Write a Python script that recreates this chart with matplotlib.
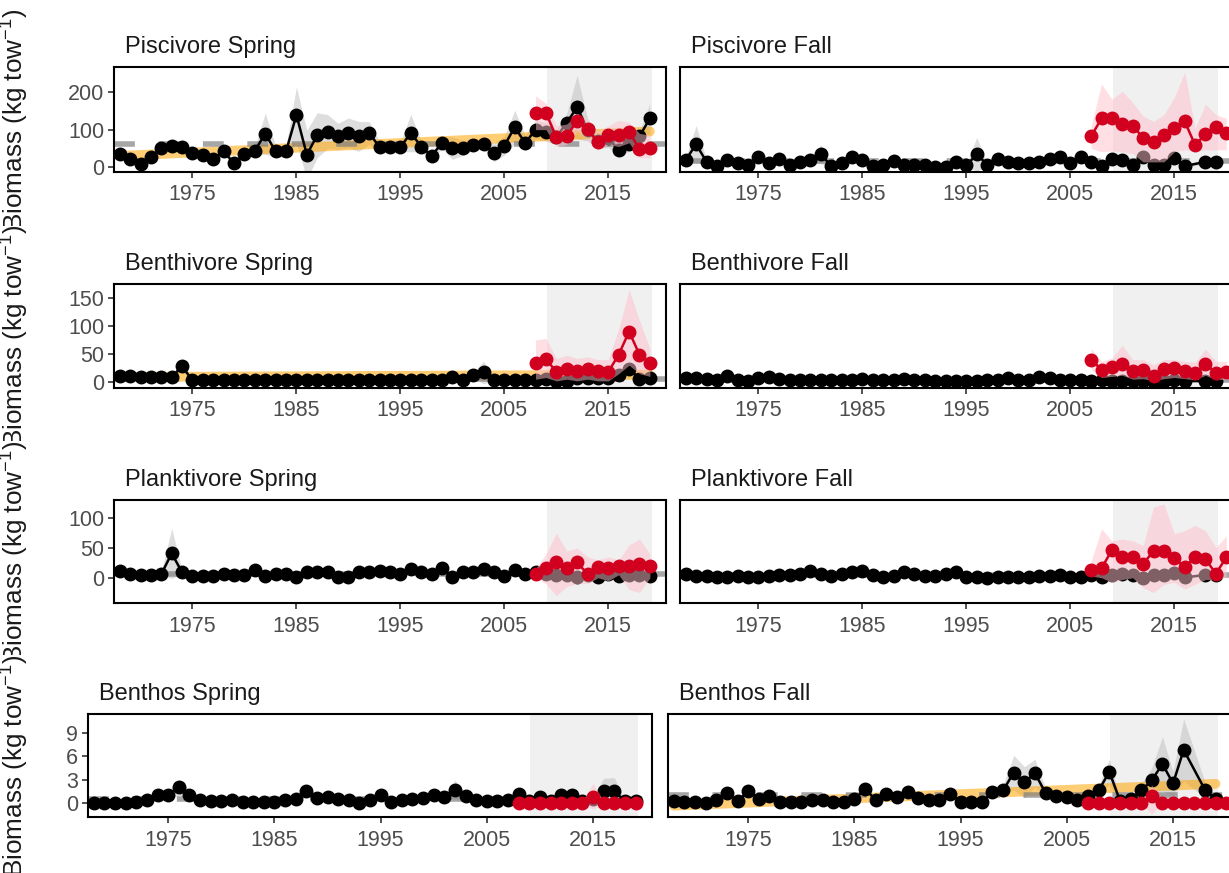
import numpy as np
import matplotlib
matplotlib.use("Agg")
import matplotlib.pyplot as plt
from matplotlib.transforms import offset_copy, Bbox

plt.rcParams['font.family'] = ['Liberation Sans', 'DejaVu Sans']
plt.rcParams['mathtext.fontset'] = 'custom'
plt.rcParams['mathtext.rm'] = 'Liberation Sans'
plt.rcParams['mathtext.it'] = 'Liberation Sans:italic'
plt.rcParams['mathtext.bf'] = 'Liberation Sans:bold'
plt.rcParams['lines.scale_dashes'] = False

## Years
years = np.arange(1968, 2020)
spring_red_years = np.arange(2008, 2020)
fall_red_years = np.arange(2007, 2021)
nan = np.nan

## Piscivore
pisc_spring = [35, 21, 9, 27, 51, 57, 55, 39, 33, 21, 42, 10, 35, 44, 89, 42, 42, 139, 33, 85,
               95, 82, 91, 82, 91, 53, 53, 53, 91, 55, 30, 64, 51, 51, 60, 62, 39, 57, 107, 64,
               100, 94, 80, 118, 160, 100, 70, 78, 45, 62, 82, 130]
pisc_spring_se = [8, 6, 6, 8, 10, 8, 10, 8, 8, 6, 10, 6, 8, 10, 55, 15, 15, 75, 65, 60,
                  45, 35, 40, 40, 30, 15, 10, 12, 50, 15, 10, 15, 30, 20, 15, 12, 25, 25, 45, 20,
                  25, 25, 20, 25, 85, 30, 20, 25, 15, 20, 15, 40]
pisc_spring_red = [145, 145, 80, 82, 124, 101, 66, 87, 87, 94, 48, 51]
pisc_spring_red_hi = [190, 170, 110, 115, 140, 125, 95, 110, 125, 120, 90, 85]
pisc_spring_red_lo = [100, 100, 55, 60, 95, 75, 45, 60, 55, 65, 25, 25]

pisc_fall = [19, 61, 14, 3, 19, 10, 5, 28, 11, 23, 5, 14, 19, 34, 3, 10, 28, 19, 2, 5,
             16, 7, 5, 5, 1.5, 0.5, 14, 5, 34, 7, 21, 14, 10, 10, 14, 21, 28, 10, 28, 14,
             3, 23, 19, 5, 28, 7, 7, 25, 3, nan, 14, 14]
pisc_fall_se = [6, 50, 6, 4, 6, 5, 4, 8, 5, 6, 4, 5, 8, 25, 4, 5, 8, 6, 3, 4,
                5, 4, 4, 4, 3, 3, 6, 4, 45, 4, 6, 5, 5, 5, 5, 6, 8, 5, 8, 5,
                4, 8, 6, 5, 8, 5, 5, 8, 5, nan, 5, 5]
pisc_fall_red = [82, 130, 131, 115, 109, 79, 66, 86, 104, 122, 59, 88, 106, 91]
pisc_fall_red_hi = [110, 222, 181, 202, 172, 136, 122, 140, 186, 253, 104, 168, 140, 130]
pisc_fall_red_lo = [50, 41, 43, 41, 36, 14, 14, 14, 41, 46, 43, 46, 46, 46]

## Benthivore
benv_spring = [10, 10, 9, 9, 9, 9, 28, 3, 3, 4, 3, 3, 3, 3, 4, 3, 3, 3, 3, 3,
               3, 3, 3, 3, 3, 3, 3, 3, 3, 3, 3, 3, 9, 4, 12, 17, 4, 4, 4, 4,
               4, 5, 1, 2, 7, 8, 7, 8, 12, 24, 6, 7]
benv_spring_se = [3, 3, 3, 3, 3, 3, 8, 2, 2, 2, 2, 2, 2, 2, 2, 2, 2, 2, 2, 2,
                  2, 2, 2, 2, 2, 2, 2, 2, 2, 2, 2, 2, 4, 2, 5, 20, 2, 2, 2, 2,
                  2, 3, 2, 2, 3, 3, 3, 3, 5, 10, 3, 3]
benv_spring_red = [34, 41, 18, 24, 20, 24, 20, 18, 49, 90, 49, 34]
benv_spring_red_hi = [75, 78, 42, 48, 42, 45, 40, 40, 95, 165, 110, 60]
benv_spring_red_lo = [5, 8, 2, 5, 2, 5, 2, 2, 15, 30, 15, 10]

benv_fall = [7.6, 7.6, 5.9, 2.9, 10, 4.1, 1.7, 6.4, 8.8, 5.9, 2.9, 2.9, 2.9, 2.9, 2.9, 2.9, 2.9, 5.9, 2.9, 2.9,
             2.9, 5.9, 2.9, 2.9, 1.7, 1.7, 1.7, 1.7, 1.7, 2.9, 2.9, 6.4, 2.9, 2.9, 8.8, 6.4, 2.9, 4.1, 4.1, 1.7,
             2.9, 1.7, 1.7, 1.7, 1.7, 0.3, 1.7, 2.9, 1.7, nan, 1.7, 1.7]
benv_fall_se = [2] * 49 + [nan, 2, 2]
benv_fall_red = [40, 22, 26, 32, 19, 22, 10.5, 23.5, 25, 20.5, 16.4, 32, 16.4, 18]
benv_fall_red_hi = [60, 37, 43, 66, 40, 40, 31, 40, 40, 37, 35, 59, 37, 37]
benv_fall_red_lo = [22, 8, 10, 12, 5, 6, 2, 6, 8, 6, 4, 12, 4, 5]

## Planktivore
plank_spring = [11, 6, 5, 5, 6, 41, 9, 3, 3, 3, 6, 5, 5, 13, 3, 6, 6, 2, 9, 9,
                10, 2, 2, 10, 9, 12, 10, 6, 14, 10, 7, 16, 2, 10, 10, 14, 10, 3, 13, 6,
                10, 6, 5, 5, 2, 4, 2, 6, 3, 5, 5, 3]
plank_spring_se = [4, 3, 3, 3, 3, 42, 4, 2, 2, 2, 3, 3, 3, 5, 2, 3, 3, 2, 4, 4,
                   4, 2, 2, 4, 4, 5, 4, 3, 5, 4, 3, 6, 2, 4, 4, 5, 4, 2, 5, 3,
                   4, 3, 3, 3, 2, 3, 2, 3, 2, 3, 3, 2]
plank_spring_red = [6, 16, 26, 16, 26, 6, 18, 16, 19, 19, 23, 19]
plank_spring_red_hi = [15, 40, 75, 45, 50, 35, 30, 35, 30, 55, 65, 40]
plank_spring_red_lo = [0, -10, -30, -15, -10, -10, 0, -5, 5, -20, -25, 0]

plank_fall = [7, 3, 3, 1.4, 1.4, 3, 1.4, 0.5, 3, 4.8, 4.8, 7, 10.5, 7, 3, 6, 8.8, 10.5, 4.8, 1.4,
              3, 8.8, 6, 3, 3, 7, 8.8, 0.5, 0.5, 0.3, 1.4, 1.4, 1.4, 1.4, 3, 3, 4.8, 1.4, 1.4, 4.8,
              0.5, 4, 7, 5, 0.3, 4.8, 4.8, 8, 0.5, nan, 4.8, 4.8]
plank_fall_se = [2] * 49 + [nan, 2, 2]
plank_fall_red = [12.7, 16, 46.5, 34, 35, 23, 45, 45, 33, 18, 35, 31, 7, 34]
plank_fall_red_hi = [28, 82, 62, 65, 62, 54, 119, 124, 74, 79, 88, 79, 51, 70]
plank_fall_red_lo = [3, 0, -8, -3, 0, -17, -25, -11, -8, -19, -11, -3, -3, 0]

## Benthos
bent_spring = [0, 0, 0, 0, 0.1, 0.35, 1.05, 1.0, 2.0, 1.05, 0.35, 0.2, 0.25, 0.35, 0.13, 0.13, 0.13, 0.13, 0.35, 0.45,
               1.5, 0.65, 0.75, 0.45, 0.35, 0.05, 0.35, 1.0, 0.13, 0.4, 0.45, 0.65, 1.0, 0.75, 1.7, 0.85, 0.35, 0.2, 0.2, 0.35,
               1.1, 0.3, 0.75, 0.3, 1.0, 1.0, 0.3, 0.5, 1.55, 1.55, 0.2, 0.2]
bent_spring_se = [0.2, 0.2, 0.2, 0.2, 0.2, 0.3, 0.7, 0.6, 1.0, 0.6, 0.3, 0.2, 0.2, 0.2, 0.2, 0.2, 0.2, 0.2, 0.2, 0.3,
                  0.7, 0.3, 0.3, 0.2, 0.2, 0.2, 0.2, 0.4, 0.2, 0.2, 0.2, 0.3, 0.4, 0.3, 1.2, 0.4, 0.2, 0.2, 0.2, 0.2,
                  0.5, 0.2, 0.4, 0.2, 0.4, 0.4, 0.2, 0.3, 1.6, 1.7, 0.2, 0.2]
bent_spring_red = [0.05, 0.05, 0.05, 0.05, 0.05, 0.05, 0.05, 0.8, 0.05, 0.05, 0.05, 0.05]
bent_spring_red_hi = [0.2, 0.2, 0.2, 0.2, 0.2, 0.2, 0.2, 2.5, 0.2, 0.2, 0.2, 0.2]
bent_spring_red_lo = [-0.1, -0.1, -0.1, -0.1, -0.1, -0.1, -0.1, -0.8, -0.1, -0.1, -0.1, -0.1]

bent_fall = [0.25, 0.13, 0.13, 0.0, 0.4, 1.27, 0.25, 1.5, 0.55, 0.85, 0.13, 0.13, 0.13, 0.35, 0.35, 0.13, 0.13, 0.45, 1.8, 0.4,
             1.2, 0.75, 1.4, 0.6, 0.35, 0.35, 1.2, 0.13, 0.13, 0.13, 1.4, 1.6, 3.9, 2.65, 3.8, 1.27, 0.83, 0.75, 0.4, 0.83,
             1.6, 4.0, 0.3, 0.5, 1.6, 2.9, 5.0, 2.5, 6.8, nan, 1.7, 0.5]
bent_fall_se = [0.3, 0.2, 0.2, 0.2, 0.3, 0.5, 0.3, 0.5, 0.3, 0.4, 0.2, 0.2, 0.2, 0.3, 0.3, 0.2, 0.2, 0.3, 0.6, 0.3,
                0.5, 0.4, 0.7, 0.3, 0.3, 0.3, 0.5, 0.2, 0.2, 0.2, 0.6, 0.7, 2.2, 2.0, 1.8, 0.6, 0.4, 0.4, 0.3, 0.4,
                0.7, 1.6, 0.3, 0.3, 0.8, 1.6, 3.5, 1.5, 4.0, nan, 1.0, 0.3]
bent_fall_red = [0.05, 0.05, 0.05, 0.05, 0.05, 0.05, 0.85, 0.05, 0.05, 0.05, 0.05, 0.05, 0.05, 0.05]
bent_fall_red_hi = [0.15, 0.15, 0.15, 0.15, 0.15, 0.15, 2.3, 0.15, 0.15, 0.15, 0.15, 0.15, 0.15, 0.15]
bent_fall_red_lo = [-0.1, -0.1, -0.1, -0.1, -0.1, -0.1, -1.4, -0.1, -0.1, -0.1, -0.1, -0.1, -0.1, -0.1]

## Long-term means and significant trends (start, end)
means = {'pisc_spring': 63, 'pisc_fall': 16, 'benv_spring': 6, 'benv_fall': 4,
         'plank_spring': 7, 'plank_fall': 4, 'bent_spring': 0.55, 'bent_fall': 1.0}
trends = {'pisc_spring': (30, 95), 'benv_spring': (9, 13), 'bent_fall': (-0.35, 2.45)}

titles = ['Piscivore Spring', 'Piscivore Fall', 'Benthivore Spring', 'Benthivore Fall',
          'Planktivore Spring', 'Planktivore Fall', 'Benthos Spring', 'Benthos Fall']
row_ylims = [(-13, 267), (-10.7, 175), (-42.4, 130.5), (-1.8, 11.4)]
row_yticks = [[0, 100, 200], [0, 50, 100, 150], [0, 50, 100], [0, 3, 6, 9]]
xticks = [1975, 1985, 1995, 2005, 2015]

RED = '#D1001F'
W, H = 1229, 873

# pixel layout (left, right) per column and (top, bottom) per row
row_y = [(67, 172), (284, 388), (500, 603), (714, 817)]
left_x = [(114, 666), (114, 666), (114, 666), (88, 652)]
right_x = [(680, 1232), (680, 1232), (680, 1232), (668, 1232)]

panels = [
    ('pisc_spring', pisc_spring, pisc_spring_se, spring_red_years, pisc_spring_red, pisc_spring_red_lo, pisc_spring_red_hi),
    ('pisc_fall', pisc_fall, pisc_fall_se, fall_red_years, pisc_fall_red, pisc_fall_red_lo, pisc_fall_red_hi),
    ('benv_spring', benv_spring, benv_spring_se, spring_red_years, benv_spring_red, benv_spring_red_lo, benv_spring_red_hi),
    ('benv_fall', benv_fall, benv_fall_se, fall_red_years, benv_fall_red, benv_fall_red_lo, benv_fall_red_hi),
    ('plank_spring', plank_spring, plank_spring_se, spring_red_years, plank_spring_red, plank_spring_red_lo, plank_spring_red_hi),
    ('plank_fall', plank_fall, plank_fall_se, fall_red_years, plank_fall_red, plank_fall_red_lo, plank_fall_red_hi),
    ('bent_spring', bent_spring, bent_spring_se, spring_red_years, bent_spring_red, bent_spring_red_lo, bent_spring_red_hi),
    ('bent_fall', bent_fall, bent_fall_se, fall_red_years, bent_fall_red, bent_fall_red_lo, bent_fall_red_hi),
]

fig = plt.figure(figsize=(W / 100, H / 100), dpi=100)


def add_px_axes(x0, x1, y0, y1):
    return fig.add_axes([x0 / W, 1 - y1 / H, (x1 - x0) / W, (y1 - y0) / H])


for i, (key, val, se, ryr, rval, rlo, rhi) in enumerate(panels):
    row, col = i // 2, i % 2
    xs = left_x[row] if col == 0 else right_x[row]
    ax = add_px_axes(xs[0], xs[1], row_y[row][0], row_y[row][1])

    ax.axvspan(2009.1, 2019.2, color='#F0F0F0', lw=0, zorder=0)

    v = np.array(val, float)
    s = np.array(se, float)
    ok = ~np.isnan(v)
    ax.fill_between(years[ok], v[ok] - s[ok], v[ok] + s[ok], color='#BEBEBE', alpha=0.5, lw=0, zorder=1)
    if key in trends:
        ax.plot([years[0], years[-1]], trends[key], color='orange', alpha=0.55, lw=7,
                solid_capstyle='round', zorder=2)
    ax.axhline(means[key], color='grey', alpha=0.7, lw=4, ls=(0, (15, 17)), zorder=2)
    ax.plot(years[ok], v[ok], color='black', lw=1.8, marker='o', ms=9, zorder=3)
    ax.fill_between(ryr, rlo, rhi, color='pink', alpha=0.5, lw=0, zorder=4)
    ax.plot(ryr, rval, color=RED, lw=1.8, marker='o', ms=9, zorder=5)

    ax.set_xlim(1967.45, 2020.55)
    ax.set_ylim(*row_ylims[row])
    ax.set_xticks(xticks)
    ax.set_xticklabels([str(t) for t in xticks])
    ax.set_yticks(row_yticks[row])
    ax.tick_params(axis='both', labelsize=15.5, labelcolor='#4D4D4D', color='#333333',
                   length=4, width=1.2, pad=3)
    ax.tick_params(axis='x', pad=5)
    if col == 1:
        ax.tick_params(axis='y', left=False, labelleft=False)
    for sp in ax.spines.values():
        sp.set_linewidth(1.5)
        sp.set_color('black')

    tr = offset_copy(ax.transAxes, fig=fig, x=11, y=14, units='dots')
    ax.text(0, 1, titles[i], transform=tr, fontsize=17, color='#1A1A1A',
            ha='left', va='baseline')

# one y label per row; the start of each is hidden under the row below it
fig.canvas.draw()
renderer = fig.canvas.get_renderer()
labels = []
for (top, bottom) in row_y:
    yc = 1 - (top + bottom) / 2 / H
    t = fig.text(15 / W, yc, 'Biomass (kg tow$^{-1}$)', rotation=90, fontsize=18.8,
                 color='#1A1A1A', ha='center', va='center')
    labels.append(t)
exts = [t.get_window_extent(renderer=renderer) for t in labels]
for k, t in enumerate(labels[:-1]):
    cut = exts[k + 1].y1 - 1
    t.set_clip_box(Bbox.from_extents(0, cut, W, H))
    t.set_clip_on(True)

fig.savefig('out.png', dpi=100)
